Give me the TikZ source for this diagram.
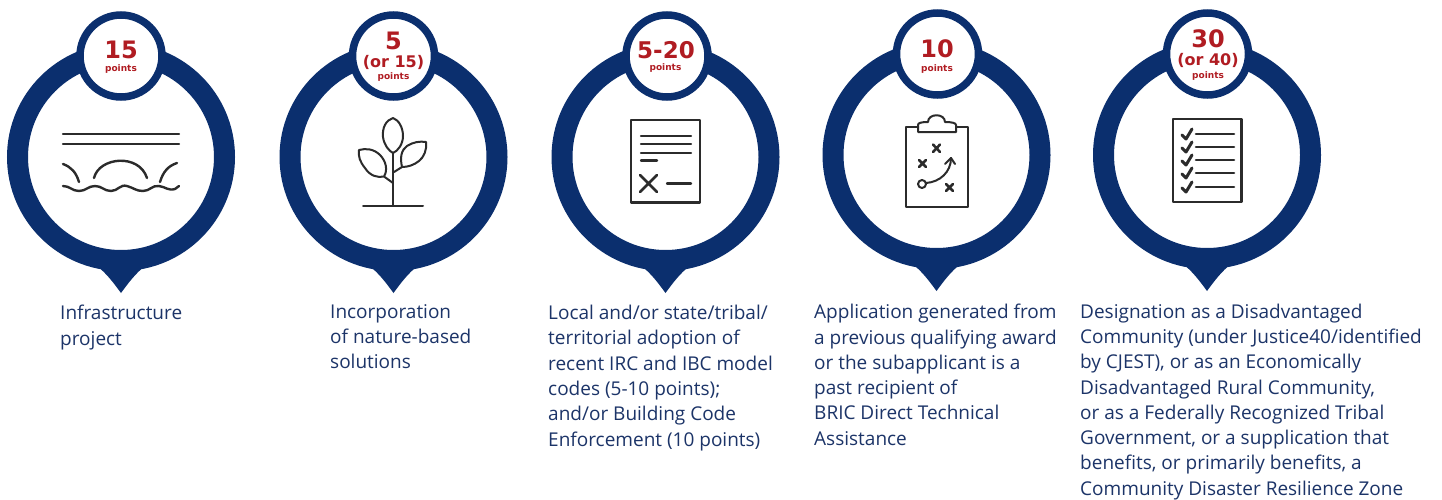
\documentclass[tikz,border=0pt]{standalone}
\usepackage{fontspec}
\setmainfont{Open Sans}
\newfontfamily\numfont{DejaVu Sans}
\definecolor{navy}{HTML}{0B2F6E}
\definecolor{ptred}{HTML}{B01C22}
\definecolor{txt}{HTML}{1C3468}
\definecolor{ink}{HTML}{2B2B2B}
\tikzset{
  ring/.style={draw=navy,line width=21pt,fill=white},
  badge/.style={draw=navy,line width=7.5pt,fill=white,circle,minimum size=82pt,inner sep=0pt},
  tiptri/.style={fill=navy,draw=none},
  bignum/.style={text=ptred,font=\numfont\fontsize{24}{24}\selectfont\bfseries,inner sep=0pt},
  widenum/.style={text=ptred,font=\numfont\fontsize{23}{23}\selectfont\bfseries,inner sep=0pt},
  midnum/.style={text=ptred,font=\numfont\fontsize{16}{16}\selectfont\bfseries,inner sep=0pt},
  ptlabel/.style={text=ptred,font=\numfont\fontsize{9}{9}\selectfont\bfseries,inner sep=0pt},
  desc/.style={text=txt,font=\fontsize{19}{25.3}\selectfont,align=left,anchor=north west,inner sep=0pt},
  icon/.style={draw=ink,line width=2pt,line cap=round,line join=round},
  iconb/.style={draw=ink,line width=2.4pt,line cap=round,line join=round},
}
\newcommand{\marker}[4]{% name, x, y-centre, badge x
  \draw[ring] (#2,#3) circle[radius=103.5];
  \fill[tiptri] (#2-24,#3+109) .. controls (#2-15,#3+116) and (#2-8,#3+125) .. (#2,#3+136)
     .. controls (#2+8,#3+125) and (#2+15,#3+116) .. (#2+24,#3+109) -- cycle;
  \node[badge] (#1) at (#4,#3-101) {};
}
\begin{document}
\begin{tikzpicture}[x=1pt,y=-1pt]
\useasboundingbox (0,0) rectangle (1442,499);
\fill[white] (0,0) rectangle (1442,499);

\marker{b1}{121}{157}{121}
\marker{b2}{393.5}{157}{393.5}
\marker{b3}{665.5}{157}{667}
\marker{b4}{936.5}{155}{937.5}
\marker{b5}{1207}{155}{1207.5}

% badge 1
\node[bignum] (n1) at (121,50) {15};
\node[ptlabel] (p1) at (121,69.5) {points};
% badge 2
\node[bignum] (n2) at (393.5,41) {5};
\node[midnum] (o2) at (393.5,62) {(or 15)};
\node[ptlabel] (p2) at (393.5,77) {points};
% badge 3
\node[widenum] (n3) at (666,50) {5-20};
\node[ptlabel] (p3) at (665.5,68.5) {points};
% badge 4
\node[bignum] (n4) at (937,49) {10};
\node[ptlabel] (p4) at (937,69) {points};
% badge 5
\node[bignum] (n5) at (1208,39) {30};
\node[midnum] (o5) at (1208,60) {(or 40)};
\node[ptlabel] (p5) at (1208,76) {points};

% icon 1: bridge
\draw[iconb] (63,134) -- (179,134) (63,144) -- (179,144);
\draw[iconb] (63,164) .. controls (71,167) and (76,172) .. (79,182);
\draw[iconb] (94,178) .. controls (99,157) and (139,153) .. (147,178);
\draw[iconb] (160,182) .. controls (163,172) and (168,166) .. (177,163);
\draw[iconb] (63,186) .. controls (70,186) and (72,191) .. (79,191)
  .. controls (86,191) and (88,186) .. (95,186)
  .. controls (102,186) and (104,191) .. (111,191)
  .. controls (118,191) and (120,184) .. (127,186)
  .. controls (134,188) and (136,191) .. (143,191)
  .. controls (150,191) and (152,185) .. (159,186)
  .. controls (166,187) and (168,191) .. (175,189) -- (179,186);

% icon 2: plant
\draw[icon] (363,205.5) -- (423,205.5);
\draw[icon] (393,205.5) -- (393,153);
\draw[icon] (393,118) .. controls (386,120) and (382,128) .. (383,137)
  .. controls (384,145) and (389,151) .. (393,153)
  .. controls (398,151) and (403,144) .. (403,136)
  .. controls (403,128) and (399,120) .. (393,118) -- cycle;
\draw[icon] (394,172) -- (402,167)
  .. controls (400,158) and (401,150) .. (407,146)
  .. controls (413,142) and (420,141) .. (426,142)
  .. controls (427,150) and (424,157) .. (419,161)
  .. controls (414,165) and (408,167) .. (402,167);
\draw[icon] (393,183) -- (384,176.5)
  .. controls (378,178) and (370,176) .. (365,168)
  .. controls (360,162) and (358,156) .. (359,150)
  .. controls (366,148) and (374,149) .. (380,155)
  .. controls (386,161) and (388,170) .. (384,176.5);

% icon 3: form
\draw[iconb] (631,120) rectangle (700,202.5);
\draw[iconb] (641,136) -- (691,136) (641,144) -- (691,144) (641,153) -- (691,153) (641,160.5) -- (657,160.5);
\draw[iconb,line width=2.8pt] (640,175) -- (657,192) (657,175) -- (640,192);
\draw[iconb] (667,183.5) -- (691,183.5);

% icon 4: clipboard
\draw[icon] (918,127) -- (906,127) -- (906,207) -- (968,207) -- (968,127) -- (956,127);
\draw[icon] (918,132) -- (918,125) .. controls (918,123) and (921,122) .. (928,122)
  .. controls (928,113) and (945,113) .. (945,122)
  .. controls (952,122) and (956,123) .. (956,125) -- (956,132) -- cycle;
\draw[iconb,line width=2.6pt] (933,144.5) -- (940,152) (940,144.5) -- (933,152);
\draw[iconb,line width=2.6pt] (919,160) -- (926,167) (926,160) -- (919,167);
\draw[iconb,line width=2.6pt] (946,184) -- (953,191) (953,184) -- (946,191);
\draw[icon] (922,184) circle[radius=4];
\draw[icon] (926,183) .. controls (940,182) and (951,172) .. (951,158);
\draw[icon] (945,164) -- (951,158) -- (955,164);

% icon 5: checklist
\draw[iconb] (1173,119) rectangle (1241.5,202);
\foreach \yy in {134,147,160,173,187}{
  \draw[iconb,line width=3pt] (1182,\yy+1) -- (1186,\yy+5) -- (1192,\yy-5);
  \draw[iconb,line width=2.6pt] (1196,\yy) -- (1234,\yy);
}

% descriptions
\node[desc] (d1) at (60,305) {Infrastructure\\project};
\node[desc] (d2) at (330,304) {Incorporation\\of nature-based\\solutions};
\node[desc] (d3) at (548,305) {Local and/or state/tribal/\\territorial adoption of\\recent IRC and IBC model\\codes (5-10 points);\\and/or Building Code\\Enforcement (10 points)};
\node[desc] (d4) at (814,304) {Application generated from\\a previous qualifying award\\or the subapplicant is a\\past recipient of\\BRIC Direct Technical\\Assistance};
\node[desc] (d5) at (1080,303.5) {Designation as a Disadvantaged\\Community (under Justice40/identified\\by CJEST), or as an Economically\\Disadvantaged Rural Community,\\or as a Federally Recognized Tribal\\Government, or a supplication that\\benefits, or primarily benefits, a\\Community Disaster Resilience Zone};
\end{tikzpicture}
\end{document}
